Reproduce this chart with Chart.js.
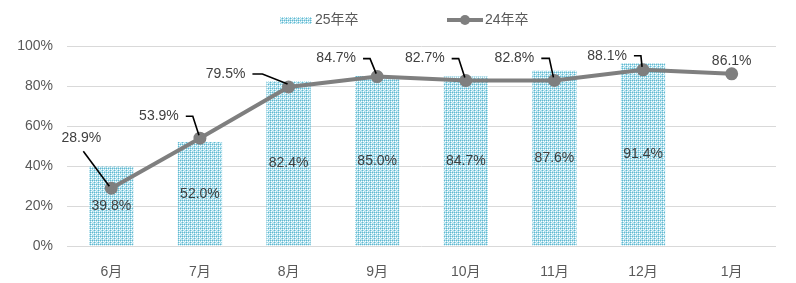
<!DOCTYPE html>
<html>
<head>
<meta charset="utf-8">
<script src="https://cdn.jsdelivr.net/npm/chart.js@4"></script>
<style>
  body { margin: 0; background: #fff; }
  #wrap { width: 796px; height: 283px; position: relative; }
</style>
</head>
<body>
<div id="wrap"><canvas id="bar-chart"></canvas></div>
<script>
const months = ['6月', '7月', '8月', '9月', '10月', '11月', '12月', '1月'];
const grad25 = [39.8, 52.0, 82.4, 85.0, 84.7, 87.6, 91.4, null];
const grad24 = [28.9, 53.9, 79.5, 84.7, 82.7, 82.8, 88.1, 86.1];
const yTicks = [0, 20, 40, 60, 80, 100];

const FONT = '"Liberation Sans", Arial, "Noto Sans CJK JP", sans-serif';
const TEXT = '#404040';

// dotted fill like the excel pattern
function makePattern() {
  const c = document.createElement('canvas');
  c.width = 4; c.height = 4;
  const g = c.getContext('2d');
  g.fillStyle = '#a9dcea';
  g.fillRect(0, 0, 4, 4);
  g.fillStyle = '#62b9d0';
  g.fillRect(0, 0, 1, 1); g.fillRect(2, 2, 1, 1); g.fillRect(2, 0, 1, 1);
  g.fillStyle = '#ffffff';
  g.fillRect(1, 1, 1, 1); g.fillRect(3, 3, 1, 1); g.fillRect(3, 1, 1, 1);
  g.fillStyle = '#d2eef5';
  g.fillRect(1, 3, 1, 1); g.fillRect(0, 2, 1, 1);
  return g.createPattern(c, 'repeat');
}
const pattern = makePattern();

// label offsets for the line values (label centre relative to point), leader: horizontal stub length
const lineLabelPos = [
  { dx: -30, dy: -50, stub: -1 },
  { dx: -41, dy: -22, stub: 7 },
  { dx: -63, dy: -13, stub: 10 },
  { dx: -41, dy: -18, stub: 7 },
  { dx: -41, dy: -22, stub: 7 },
  { dx: -40, dy: -22, stub: 8 },
  { dx: -36, dy: -14, stub: 7 },
  { dx: 0, dy: -13, stub: 0 }
];

const labelsPlugin = {
  id: 'valueLabels',
  afterDatasetsDraw(chart) {
    const ctx = chart.ctx;
    ctx.save();
    ctx.font = '14px ' + FONT;
    ctx.fillStyle = TEXT;
    ctx.textAlign = 'center';
    ctx.textBaseline = 'middle';
    // bar values, centred in bar
    chart.getDatasetMeta(0).data.forEach((bar, i) => {
      if (grad25[i] == null) return;
      const mid = (bar.y + bar.base) / 2;
      ctx.fillText(grad25[i].toFixed(1) + '%', bar.x, mid);
    });
    // line values with leader lines
    chart.getDatasetMeta(1).data.forEach((pt, i) => {
      const p = lineLabelPos[i];
      const txt = grad24[i].toFixed(1) + '%';
      const lx = pt.x + p.dx, ly = pt.y + p.dy;
      ctx.fillStyle = TEXT;
      ctx.fillText(txt, lx, ly);
      if (p.stub === 0) return;
      const w = ctx.measureText(txt).width;
      ctx.strokeStyle = '#000';
      ctx.lineWidth = 1.6;
      ctx.beginPath();
      if (p.stub < 0) {
        ctx.moveTo(lx + 2, ly + 13);
        ctx.lineTo(pt.x - 2, pt.y - 2);
      } else {
        const sx = lx + w / 2 + 7;
        ctx.moveTo(sx, ly);
        ctx.lineTo(sx + p.stub, ly);
        ctx.lineTo(pt.x - 1, pt.y - 3);
      }
      ctx.stroke();
    });
    ctx.restore();
  },
  afterDraw(chart) {
    // legend
    const ctx = chart.ctx;
    ctx.save();
    ctx.font = '14px ' + FONT;
    ctx.textBaseline = 'middle';
    ctx.textAlign = 'left';
    ctx.fillStyle = pattern;
    ctx.fillRect(280, 17, 32, 7);
    ctx.fillStyle = '#595959';
    ctx.fillText('25年卒', 315, 20);
    ctx.strokeStyle = '#7f7f7f';
    ctx.lineWidth = 4;
    ctx.beginPath();
    ctx.moveTo(447, 20);
    ctx.lineTo(483, 20);
    ctx.stroke();
    ctx.fillStyle = '#7f7f7f';
    ctx.beginPath();
    ctx.arc(465, 20, 5, 0, Math.PI * 2);
    ctx.fill();
    ctx.fillStyle = '#595959';
    ctx.fillText('24年卒', 485, 20);
    ctx.restore();
  }
};

new Chart(document.getElementById('bar-chart').getContext('2d'), {
  data: {
    labels: months,
    datasets: [
      {
        type: 'bar',
        label: '25年卒',
        data: grad25,
        backgroundColor: pattern,
        barPercentage: 0.5,
        categoryPercentage: 1,
        order: 2
      },
      {
        type: 'line',
        label: '24年卒',
        data: grad24,
        borderColor: '#7f7f7f',
        backgroundColor: '#7f7f7f',
        borderWidth: 4,
        pointRadius: 4.5,
        pointHoverRadius: 4.5,
        tension: 0,
        order: 1
      }
    ]
  },
  options: {
    responsive: true,
    maintainAspectRatio: false,
    animation: false,
    layout: { padding: { top: 46, right: 20, left: 0, bottom: 0 } },
    plugins: {
      legend: { display: false },
      tooltip: { enabled: false }
    },
    scales: {
      x: {
        grid: { display: false },
        border: { display: false },
        ticks: { color: '#595959', font: { size: 14, family: FONT }, padding: 10 },
        afterFit: s => { s.height = 37; }
      },
      y: {
        min: 0,
        max: 100,
        afterBuildTicks: s => { s.ticks = yTicks.map(v => ({ value: v })); },
        grid: { color: '#d9d9d9', drawTicks: false },
        border: { display: false },
        ticks: { color: '#595959', font: { size: 14, family: FONT }, padding: 14, callback: v => v + '%' },
        afterFit: s => { s.width = 67; }
      }
    }
  },
  plugins: [labelsPlugin]
});
</script>
</body>
</html>
